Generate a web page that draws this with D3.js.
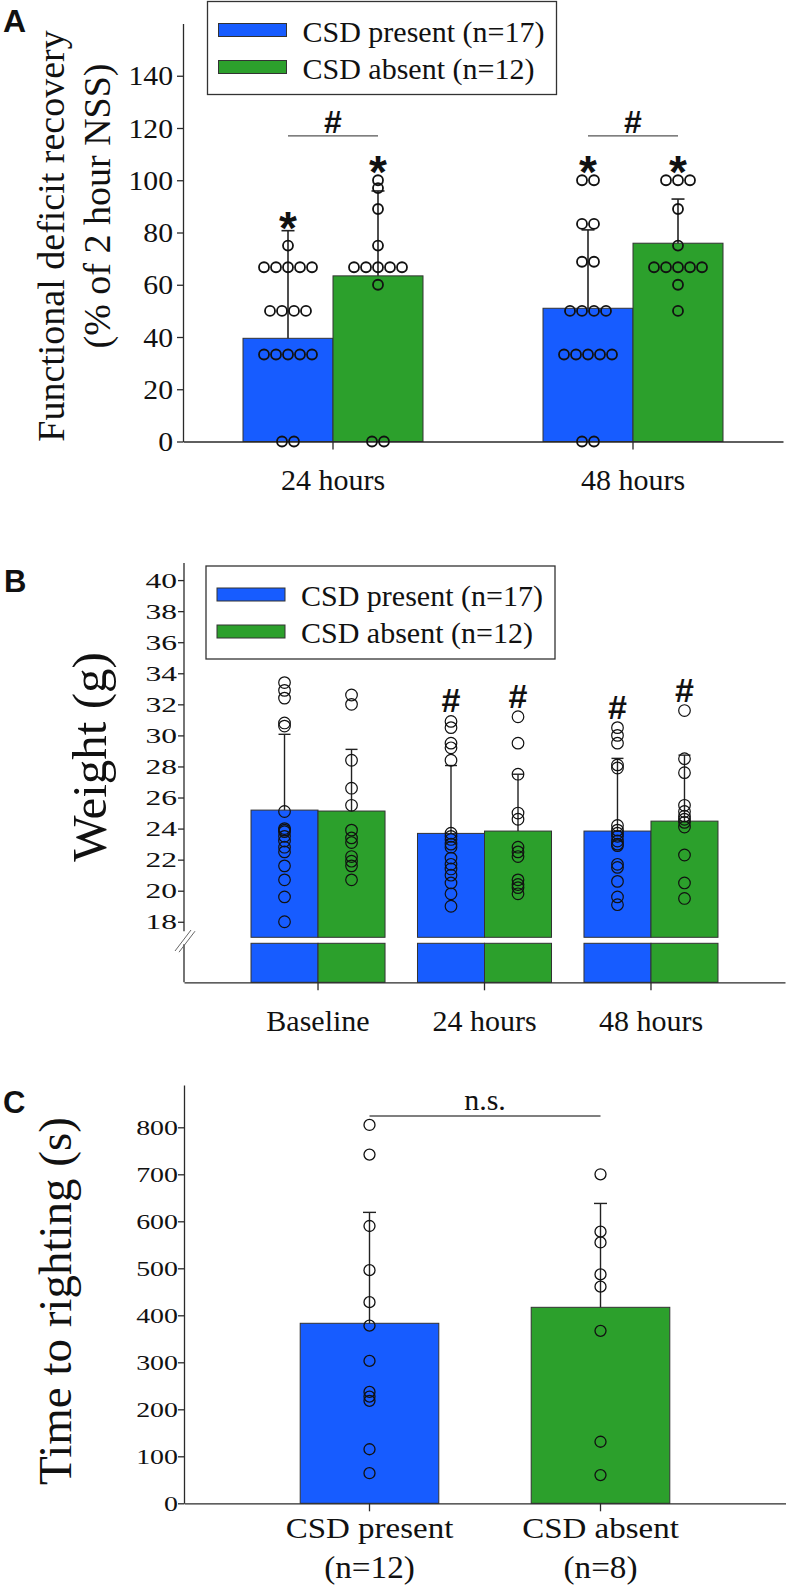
<!DOCTYPE html>
<html><head><meta charset="utf-8">
<script src="https://cdn.jsdelivr.net/npm/d3@7"></script>
<style>
body{margin:0;background:#fff}
svg{display:block}
text{font-family:"Liberation Serif","Times New Roman",serif;fill:#111}
</style>
</head><body>
<svg id="chart" width="786" height="1586"></svg>
<script>
// ---------------- DATA ----------------
const seriesNames = ["CSD present (n=17)", "CSD absent (n=12)"];
const seriesColors = ["#175cff", "#2ca02c"];

// Panel A: functional deficit recovery (% of 2 hour NSS)
const groupsA = ["24 hours", "48 hours"];
const ticksA = [0, 20, 40, 60, 80, 100, 120, 140];
const meanA_present = [39.5, 51.0];
const meanA_absent = [63.4, 75.9];
const errA_present = [41.2, 30.0];
const errA_absent = [32.5, 16.9];
const ptsA_present_24 = [0, 0, 33.3, 33.3, 33.3, 33.3, 33.3, 50, 50, 50, 50, 66.7, 66.7, 66.7, 66.7, 66.7, 75];
const ptsA_absent_24 = [0, 0, 60, 66.7, 66.7, 66.7, 66.7, 66.7, 75, 89, 97, 100];
const ptsA_present_48 = [0, 0, 33.3, 33.3, 33.3, 33.3, 33.3, 50, 50, 50, 50, 68.8, 68.8, 83.3, 83.3, 100, 100];
const ptsA_absent_48 = [50, 60, 66.7, 66.7, 66.7, 66.7, 66.7, 75, 89, 100, 100, 100];

// Panel B: weight (g)
const groupsB = ["Baseline", "24 hours", "48 hours"];
const ticksB = [18, 20, 22, 24, 26, 28, 30, 32, 34, 36, 38, 40];
const meanB_present = [25.19, 23.69, 23.84];
const meanB_absent = [25.13, 23.84, 24.48];
const errB_present = [4.88, 4.37, 4.68];
const errB_absent = [3.97, 3.66, 4.25];
const ptsB_present_base = [33.4, 32.9, 32.4, 30.8, 30.6, 25.1, 24.0, 23.9, 23.8, 23.5, 23.2, 22.8, 22.5, 21.6, 20.7, 19.6, 18.0];
const ptsB_absent_base = [32.6, 32.0, 28.4, 26.6, 25.5, 23.9, 23.4, 23.1, 22.2, 21.9, 21.6, 20.7];
const ptsB_present_24 = [30.9, 30.5, 29.5, 29.2, 28.4, 23.7, 23.5, 23.3, 23.0, 22.8, 22.1, 21.7, 21.4, 21.0, 20.5, 19.8, 19.0];
const ptsB_absent_24 = [31.2, 29.5, 27.5, 25.0, 24.6, 22.8, 22.5, 22.2, 20.7, 20.4, 20.2, 19.8];
const ptsB_present_48 = [30.5, 30.0, 29.5, 28.1, 27.9, 24.2, 23.9, 23.7, 23.5, 23.2, 23.0, 22.9, 21.7, 21.5, 20.6, 19.6, 19.1];
const ptsB_absent_48 = [31.6, 28.5, 27.6, 25.5, 25.1, 24.8, 24.6, 24.4, 24.1, 22.3, 20.5, 19.5];

// Panel C: time to righting (s)
const groupsC = ["CSD present", "CSD absent"];
const groupsC_n = ["(n=12)", "(n=8)"];
const ticksC = [0, 100, 200, 300, 400, 500, 600, 700, 800];
const meanC = [383, 417];
const errC = [236, 221];
const ptsC_present = [805, 742, 590, 496, 428, 378, 303, 237, 227, 218, 115, 64];
const ptsC_absent = [700, 578, 555, 487, 461, 367, 131, 60];

// ---------------- HELPERS ----------------
const SERIF = "'Liberation Serif','Times New Roman',serif";
const SANS = "'Liberation Sans',Arial,sans-serif";
const svg = d3.select("#chart");
svg.append("rect").attr("width", 786).attr("height", 1586).attr("fill", "#fff");
const AX = "#2a2a2a";

function txt(g, x, y, s, o) {
  o = o || {};
  const t = g.append("text")
    .attr("transform", `translate(${x},${y})${o.rot ? " rotate(" + o.rot + ")" : ""} scale(${o.sx || 1},${o.sy || 1})`)
    .attr("text-anchor", o.anchor || "middle")
    .attr("font-size", o.size || 30)
    .attr("font-family", o.sans ? SANS : SERIF)
    .style("font-family", o.sans ? SANS : SERIF)
    .text(s);
  if (o.bold) t.attr("font-weight", "bold");
  return t;
}
function styleAxis(g) {
  g.attr("font-family", SERIF);
  g.selectAll(".domain").attr("stroke", AX).attr("stroke-width", 1.3);
  g.selectAll(".tick line").attr("stroke", AX).attr("stroke-width", 1.3);
  g.selectAll(".tick text").attr("font-family", SERIF).style("font-family", SERIF).attr("fill", "#111");
}
function leftAxis(g, scale, ticks, size, sx, off) {
  const a = g.append("g").attr("transform", `translate(${scale.__x},0)`)
    .call(d3.axisLeft(scale).tickValues(ticks).tickSize(6).tickSizeOuter(0));
  styleAxis(a);
  a.selectAll(".tick text")
    .attr("font-size", size)
    .attr("x", null).attr("dy", "0.34em")
    .attr("transform", `translate(${-off},0) scale(${sx},1)`);
  return a;
}
function drawPoints(g, pts, cx, scale, r, spacing, sw) {
  // identical values side by side (spacing>0), otherwise stacked on the centre line
  const counts = d3.rollup(pts, v => v.length, d => d);
  const seen = new Map();
  pts.forEach(v => {
    const n = counts.get(v);
    const i = seen.get(v) || 0; seen.set(v, i + 1);
    const dx = spacing ? (i - (n - 1) / 2) * spacing : 0;
    g.append("circle").attr("cx", cx + dx).attr("cy", scale(v)).attr("r", r)
      .attr("fill", "none").attr("stroke", "#111").attr("stroke-width", sw || 1.3);
  });
}
function errBar(g, cx, scale, m, e, cap, sw) {
  g.append("line").attr("x1", cx).attr("x2", cx).attr("y1", scale(m)).attr("y2", scale(m + e))
    .attr("stroke", "#222").attr("stroke-width", sw || 1.4);
  g.append("line").attr("x1", cx - cap / 2).attr("x2", cx + cap / 2).attr("y1", scale(m + e)).attr("y2", scale(m + e))
    .attr("stroke", "#222").attr("stroke-width", sw || 1.4);
}
function legend(g, x, y) {
  g.append("rect").attr("x", x).attr("y", y).attr("width", 349).attr("height", 93)
    .attr("fill", "#fff").attr("stroke", "#333").attr("stroke-width", 1.3);
  seriesNames.forEach((s, i) => {
    g.append("rect").attr("x", x + 11).attr("y", y + 22 + i * 37).attr("width", 68).attr("height", 13)
      .attr("fill", seriesColors[i]).attr("stroke", "#333").attr("stroke-width", 1);
    txt(g, x + 95, y + 40 + i * 37, s, { anchor: "start", size: 30 });
  });
}

// ---------------- PANEL A ----------------
{
  const g = svg.append("g");
  const yA = d3.scaleLinear().domain([0, 160]).range([441.5, 23.5]);
  yA.__x = 183;
  const xA = d3.scaleBand().domain(groupsA).range([183, 783]).paddingInner(0.4).paddingOuter(0.2);
  const sA = d3.scaleBand().domain([0, 1]).range([0, xA.bandwidth()]);
  const means = [meanA_present, meanA_absent];
  const errs = [errA_present, errA_absent];
  const pts = [[ptsA_present_24, ptsA_present_48], [ptsA_absent_24, ptsA_absent_48]];

  groupsA.forEach((grp, gi) => {
    [0, 1].forEach(si => {
      g.append("rect").attr("x", xA(grp) + sA(si)).attr("y", yA(means[si][gi]))
        .attr("width", sA.bandwidth()).attr("height", yA(0) - yA(means[si][gi]))
        .attr("fill", seriesColors[si]).attr("stroke", "#333").attr("stroke-width", 1);
    });
  });
  const xa = g.append("g").attr("transform", `translate(0,${yA(0)})`)
    .call(d3.axisBottom(xA).tickSize(8).tickSizeOuter(0));
  styleAxis(xa);
  xa.selectAll(".tick text").attr("font-size", 30).attr("y", 48.5).attr("dy", null);
  leftAxis(g, yA, ticksA, 27, 1.1, 10);

  groupsA.forEach((grp, gi) => {
    const cx = [0, 1].map(si => xA(grp) + sA(si) + sA.bandwidth() / 2);
    [0, 1].forEach(si => {
      errBar(g, cx[si], yA, means[si][gi], errs[si][gi], 13, 1.6);
      drawPoints(g, pts[si][gi], cx[si], yA, 5, 12, 1.8);
      const c = Math.min(yA(means[si][gi] + errs[si][gi]) - 13, yA(d3.max(pts[si][gi])) - 18);
      txt(g, cx[si], c + 26, "*", { size: 46, bold: true, sans: true });
    });
    const ly = yA(117);
    g.append("line").attr("x1", cx[0]).attr("x2", cx[1]).attr("y1", ly).attr("y2", ly)
      .attr("stroke", "#555").attr("stroke-width", 1.3);
    txt(g, (cx[0] + cx[1]) / 2, ly - 3, "#", { size: 32, bold: true, sans: true });
  });
  legend(g, 207.5, 1.5);
  txt(g, 64, 236, "Functional deficit recovery", { rot: -90, size: 38 });
  txt(g, 110, 206, "(% of 2 hour NSS)", { rot: -90, size: 38 });
  txt(g, 3, 32, "A", { anchor: "start", size: 32, bold: true, sans: true });
}

// ---------------- PANEL B ----------------
{
  const g = svg.append("g");
  const yB = d3.scaleLinear().domain([17, 41.1]).range([937.3, 563]);
  yB.__x = 184;
  const lowTop = 943.3, base = 982.3;
  const xB = d3.scaleBand().domain(groupsB).range([184, 785]).paddingInner(0.195).paddingOuter(0.4025);
  const sB = d3.scaleBand().domain([0, 1]).range([0, xB.bandwidth()]);
  const means = [meanB_present, meanB_absent];
  const errs = [errB_present, errB_absent];
  const pts = [[ptsB_present_base, ptsB_present_24, ptsB_present_48], [ptsB_absent_base, ptsB_absent_24, ptsB_absent_48]];

  groupsB.forEach((grp, gi) => {
    [0, 1].forEach(si => {
      const x = xB(grp) + sB(si), w = sB.bandwidth();
      g.append("rect").attr("x", x).attr("y", yB(means[si][gi])).attr("width", w)
        .attr("height", yB(17) - yB(means[si][gi]))
        .attr("fill", seriesColors[si]).attr("stroke", "#333").attr("stroke-width", 1);
      g.append("rect").attr("x", x).attr("y", lowTop).attr("width", w).attr("height", base - lowTop)
        .attr("fill", seriesColors[si]).attr("stroke", "#333").attr("stroke-width", 1);
    });
  });
  const xb = g.append("g").attr("transform", `translate(0,${base})`)
    .call(d3.axisBottom(xB).tickSize(8).tickSizeOuter(0));
  styleAxis(xb);
  xb.selectAll(".tick text").attr("font-size", 30).attr("y", 48.5).attr("dy", null);
  const ya = leftAxis(g, yB, ticksB, 21, 1.5, 7);
  ya.select(".domain").attr("d", `M0,${yB.range()[0] - 6}V${yB.range()[1]}`);
  g.append("line").attr("x1", 184).attr("x2", 184).attr("y1", lowTop + 1).attr("y2", base)
    .attr("stroke", AX).attr("stroke-width", 1.3);
  [0, 4].forEach(d => g.append("line").attr("x1", 175 + d).attr("y1", 951 + d * 0.3).attr("x2", 191 + d).attr("y2", 930 + d * 0.3)
    .attr("stroke", "#666").attr("stroke-width", 1));

  groupsB.forEach((grp, gi) => {
    [0, 1].forEach(si => {
      const cx = xB(grp) + sB(si) + sB.bandwidth() / 2;
      errBar(g, cx, yB, means[si][gi], errs[si][gi], 12);
      drawPoints(g, pts[si][gi], cx, yB, 5.8, 0, 1.2);
      if (gi > 0) txt(g, cx, yB(d3.max(pts[si][gi])) - 9, "#", { size: 34, bold: true, sans: true });
    });
  });
  legend(g, 206, 566);
  txt(g, 106, 757, "Weight (g)", { rot: -90, size: 49 });
  txt(g, 4, 592, "B", { anchor: "start", size: 31, bold: true, sans: true });
}

// ---------------- PANEL C ----------------
{
  const g = svg.append("g");
  const yC = d3.scaleLinear().domain([0, 890]).range([1503.3, 1085]);
  yC.__x = 184;
  const xC = d3.scaleBand().domain(groupsC).range([184, 786]).paddingInner(0.4).paddingOuter(0.503);
  const pts = [ptsC_present, ptsC_absent];
  groupsC.forEach((grp, gi) => {
    g.append("rect").attr("x", xC(grp)).attr("y", yC(meanC[gi])).attr("width", xC.bandwidth())
      .attr("height", yC(0) - yC(meanC[gi]))
      .attr("fill", seriesColors[gi]).attr("stroke", "#333").attr("stroke-width", 1);
  });
  const xc = g.append("g").attr("transform", `translate(0,${yC(0)})`)
    .call(d3.axisBottom(xC).tickSize(8).tickSizeOuter(0));
  styleAxis(xc);
  xc.selectAll(".tick text").remove();
  leftAxis(g, yC, ticksC, 21, 1.33, 6);
  groupsC.forEach((grp, gi) => {
    const cx = xC(grp) + xC.bandwidth() / 2;
    errBar(g, cx, yC, meanC[gi], errC[gi], 13);
    drawPoints(g, pts[gi], cx, yC, 5.5, 0, 1.3);
    txt(g, cx, 1538, grp, { size: 30, sx: 1.1 });
    txt(g, cx, 1578, groupsC_n[gi], { size: 31, sx: 1.07 });
  });
  const c0 = xC(groupsC[0]) + xC.bandwidth() / 2, c1 = xC(groupsC[1]) + xC.bandwidth() / 2;
  g.append("line").attr("x1", c0).attr("x2", c1).attr("y1", 1116).attr("y2", 1116)
    .attr("stroke", "#555").attr("stroke-width", 1.3);
  txt(g, (c0 + c1) / 2, 1110, "n.s.", { size: 30 });
  txt(g, 71, 1301, "Time to righting (s)", { rot: -90, size: 47 });
  txt(g, 3, 1113, "C", { anchor: "start", size: 31, bold: true, sans: true });
}
</script>
</body></html>
